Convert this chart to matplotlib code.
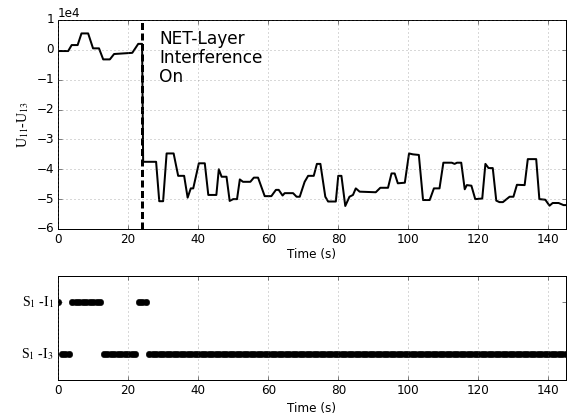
import numpy as np
import matplotlib
matplotlib.use('Agg')
import matplotlib.pyplot as plt

plt.style.use('classic')
plt.rcParams['mathtext.fontset'] = 'stix'

""" ******* data read off the chart ******** """

# U11-U13 curve (vertices, time in s, value in units of 1e4)
t_curve = [0, 2.9, 3.9, 5.6, 6.7, 8.6, 10, 11.7, 12.9, 14.8, 16, 21.2, 22.9, 24,
           24.3, 28, 28.9, 30, 31, 33, 34.3, 36, 37, 37.9, 38.6, 40.2, 41.9, 42.9,
           45.2, 45.9, 46.7, 48.1, 49, 50, 51.1, 51.9, 52.8, 54.9, 55.9, 57.1, 59,
           60.9, 62.2, 63, 64.1, 64.7, 67.1, 68.1, 69, 70.4, 71.4, 73, 73.9, 74.9,
           76.3, 77.1, 79.3, 80, 80.9, 82, 83.2, 84.2, 85, 86.1, 90.7, 92, 94.2,
           95.2, 96.1, 97, 99, 100.2, 101.3, 103, 104.2, 106.1, 107.3, 108.9, 110,
           112.4, 113.2, 113.9, 115.1, 116.1, 116.7, 118, 119.1, 121.1, 122, 122.9,
           124.1, 125.1, 126, 127, 128.9, 130, 131, 133.2, 134.1, 136.5, 137.4,
           139.1, 140.3, 141.2, 142.9, 144.3, 145]
u_curve = [-0.04, -0.04, 0.16, 0.16, 0.55, 0.55, 0.05, 0.05, -0.32, -0.32, -0.14, -0.1, 0.2, 0.2,
           -3.75, -3.75, -5.07, -5.07, -3.47, -3.47, -4.22, -4.22, -4.95, -4.64, -4.64, -3.8, -3.8, -4.86,
           -4.86, -4.0, -4.25, -4.25, -5.06, -5.0, -5.0, -4.34, -4.42, -4.42, -4.28, -4.28, -4.9,
           -4.9, -4.69, -4.69, -4.88, -4.8, -4.8, -4.92, -4.92, -4.42, -4.22, -4.22, -3.82, -3.82,
           -4.92, -5.08, -5.08, -4.22, -4.22, -5.23, -4.92, -4.86, -4.64, -4.75, -4.77, -4.62, -4.62,
           -4.14, -4.14, -4.47, -4.45, -3.47, -3.5, -3.52, -5.03, -5.03, -4.64, -4.64, -3.78,
           -3.78, -3.82, -3.78, -3.78, -4.67, -4.53, -4.55, -5.0, -4.98, -3.82, -3.96,
           -3.96, -5.05, -5.1, -5.1, -4.92, -4.92, -4.52, -4.53, -3.66, -3.66, -5.0,
           -5.02, -5.22, -5.13, -5.13, -5.2, -5.2]

t_interference = 24

# which link was active, given as runs of seconds (first, last)
runs_I1 = [(0, 0), (4, 12), (23, 25)]
runs_I3 = [(1, 3), (13, 22), (26, 145)]
link_labels = ['S$_1$ -I$_3$', 'S$_1$ -I$_1$']

""" ******* figure ******** """

fig = plt.figure(figsize=(571 / 72., 419 / 72.), dpi=72, facecolor='white')

ax1 = fig.add_axes([0.1016, 0.4535, 0.8896, 0.4988])
ax1.plot(t_curve, np.array(u_curve) * 1e4, 'k-', linewidth=2)
ax1.axvline(t_interference, color='k', linewidth=3, linestyle=(0, (7, 3.5)))
ax1.text(28.8, 0.68e4, 'NET-Layer\nInterference\nOn', fontsize=17, va='top', ha='left',
         linespacing=1.1)
ax1.set_xlim(0, 145)
ax1.set_ylim(-6e4, 1e4)
ax1.ticklabel_format(axis='y', style='sci', scilimits=(0, 0))
ax1.grid(True, color='0.4')
ax1.set_xlabel('Time (s)', fontsize=12, labelpad=2)
ax1.set_ylabel('U$_{11}$-U$_{13}$', fontsize=14, family='Liberation Serif')

ax2 = fig.add_axes([0.1016, 0.0931, 0.8896, 0.2482])
for first, last in runs_I1:
    tt = np.arange(first, last + 1)
    ax2.plot(tt, np.ones(len(tt)), 'ko', markersize=6.5)
for first, last in runs_I3:
    tt = np.arange(first, last + 1)
    ax2.plot(tt, np.zeros(len(tt)), 'ko', markersize=6.5)
ax2.set_xlim(0, 145)
ax2.set_ylim(-0.5, 1.5)
ax2.set_yticks([0, 1])
ax2.set_yticklabels(link_labels, family='Liberation Serif', fontsize=14)
ax2.xaxis.grid(True, color='0.4')
ax2.set_xlabel('Time (s)', fontsize=12, labelpad=5)

fig.savefig('out.png', dpi=72)
